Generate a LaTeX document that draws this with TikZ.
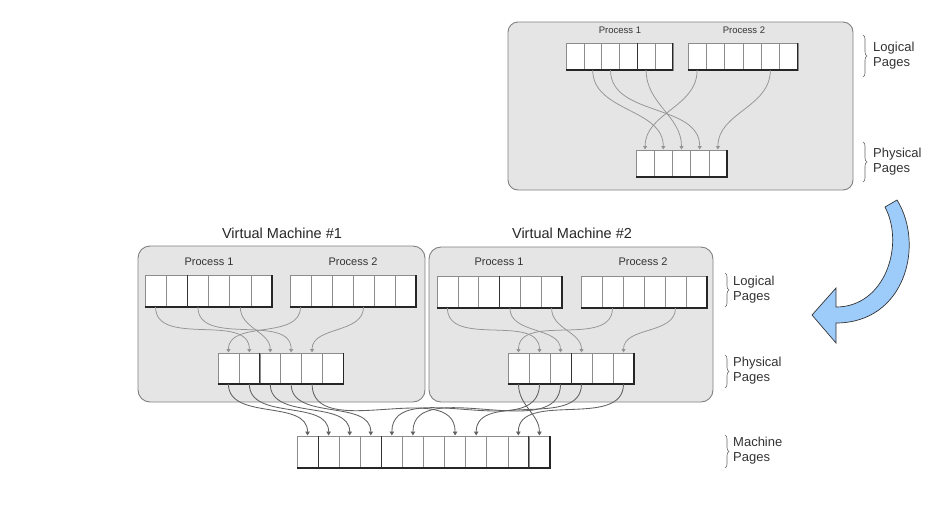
\documentclass[tikz,border=0pt]{standalone}
\usepackage{fontspec}
\setmainfont{Liberation Sans}
\usetikzlibrary{arrows.meta,decorations.pathreplacing}
\definecolor{arrowblue}{RGB}{157,203,250}
\newcommand\cellrow[6]{%
  \foreach \i in {1,...,#4}{\node[cellbox, minimum width=#5pt, minimum height=#6pt] (#1-\i) at ({#2+(\i-1)*#5}, #3) {};}
  \draw[shade] (#1-1.south west) -- (#1-#4.south east) -- (#1-#4.north east);
}
\newcommand\darkdiv[1]{\draw[divider] (#1.north east) -- (#1.south east);}
\begin{document}
\begin{tikzpicture}[x=1pt,y=-1pt,
  panel/.style={draw=black!50, line width=0.9pt, fill=black!10, rounded corners=10pt},
  cellbox/.style={draw=black!45, line width=0.6pt, fill=white, inner sep=0pt, outer sep=0pt, anchor=north west},
  shade/.style={draw=black!85, line width=1.3pt},
  divider/.style={draw=black!80, line width=0.9pt},
  conn/.style={draw=black!42, line width=0.75pt, -{Triangle[width=4pt,length=3.5pt]}, shorten >=0.5pt, out=-90, in=90},
  mconn/.style={draw=black!62, line width=0.85pt, -{Triangle[width=4.5pt,length=4pt]}, shorten >=0.5pt, out=-90, in=90},
  lbl/.style={text=black!80, font=\fontsize{13}{15}\selectfont, align=left, anchor=west, inner sep=0pt},
  proc/.style={text=black!80, inner sep=0pt, font=\fontsize{11}{13}\selectfont},
  tproc/.style={text=black!80, inner sep=0pt, font=\fontsize{9.5}{11}\selectfont},
  vmt/.style={text=black!85, inner sep=0pt, font=\fontsize{14.5}{17}\selectfont},
  br/.style={draw=black!60, line width=0.6pt, decorate, decoration={brace, amplitude=4pt}},
]
\useasboundingbox (0,0) rectangle (940,507);

% ---------- top panel ----------
\draw[panel] (508,22) rectangle (853,190);
\node[tproc] (tpr1) at (620,30) {Process 1};
\node[tproc] (tpr2) at (744,30) {Process 2};

% ---------- VM panels ----------
\draw[panel, rounded corners=12pt] (138,246) rectangle (425,402);
\draw[panel, rounded corners=12pt] (429,247) rectangle (713,402);
\node[vmt] (vm1) at (282,233) {Virtual Machine \#1};
\node[vmt] (vm2) at (572,233) {Virtual Machine \#2};
\node[proc] (apr1) at (209,262) {Process 1};
\node[proc] (apr2) at (353,262) {Process 2};
\node[proc] (bpr1) at (499,262) {Process 1};
\node[proc] (bpr2) at (643,262) {Process 2};

% ---------- coordinates of cell rows (nodes drawn later over the lines) ----------
\begin{scope}[opacity=0]
\end{scope}

% cell rows
\cellrow{t1}{566}{43}{6}{17.8}{27}
\cellrow{t2}{688}{43}{6}{18.3}{27}
\cellrow{tp}{636}{150}{5}{18.2}{27}
\cellrow{a1}{145}{275}{6}{21.17}{32}
\cellrow{a2}{290}{275}{6}{21}{32}
\cellrow{ap}{218}{353}{6}{20.9}{31}
\cellrow{b1}{437}{276}{6}{20.83}{32}
\cellrow{b2}{581}{276}{6}{21}{32}
\cellrow{bp}{508}{353}{6}{21}{31}
\cellrow{m}{297}{436}{12}{21.08}{32}
\darkdiv{t1-4}
\darkdiv{a1-2}
\darkdiv{ap-2}
\darkdiv{b1-3}
\darkdiv{bp-3}
\darkdiv{m-1}
\darkdiv{m-4}
\darkdiv{m-11}

% ---------- connectors: top ----------
\draw[conn] (t1-2.south) to (tp-2.north);
\draw[conn] (t1-3.south) to (tp-4.north);
\draw[conn] (t1-5.south) to (tp-3.north);
\draw[conn] (t2-1.south) to (tp-1.north);
\draw[conn] (t2-5.south) to (tp-5.north);

% ---------- connectors: VM1 ----------
\draw[conn] (a1-1.south) to (ap-2.north);
\draw[conn] (a1-3.south) to (ap-4.north);
\draw[conn] (a1-5.south) to (ap-3.north);
\draw[conn] (a2-1.south) to (ap-1.north);
\draw[conn] (a2-4.south) to (ap-5.north);

% ---------- connectors: VM2 ----------
\draw[conn] (b1-1.south) to (bp-2.north);
\draw[conn] (b1-4.south) to (bp-3.north);
\draw[conn] (b1-6.south) to (bp-4.north);
\draw[conn] (b2-2.south) to (bp-1.north);
\draw[conn] (b2-5.south) to (bp-6.north);

% ---------- connectors: machine ----------
\draw[mconn] (ap-1.south) to (m-1.north);
\draw[mconn] (ap-2.south) to (m-2.north);
\draw[mconn] (ap-3.south) to (m-3.north);
\draw[mconn] (ap-4.south) to (m-4.north);
\draw[mconn] (ap-5.south) to (m-8.north);
\draw[mconn] (bp-1.south) to (m-12.north);
\draw[mconn] (bp-2.south) to (m-5.north);
\draw[mconn] (bp-3.south) to (m-6.north);
\draw[mconn] (bp-4.south) to (m-9.north);
\draw[mconn] (bp-6.south) to (m-11.north);

% ---------- right labels ----------
\draw[br] (863,35) -- (863,77);
\node[lbl] (tlog) at (873,56) {Logical\\Pages};
\draw[br] (863,142) -- (863,182);
\node[lbl] (tphy) at (873,162) {Physical\\Pages};
\draw[br] (725,273) -- (725,307);
\node[lbl] (blog) at (733,290) {Logical\\Pages};
\draw[br] (725,355) -- (725,388);
\node[lbl] (bphy) at (733,371) {Physical\\Pages};
\draw[br] (725,435) -- (725,468);
\node[lbl] (bmac) at (733,451) {Machine\\Pages};

% ---------- blue curved arrow ----------
\draw[fill=arrowblue, draw=black!80, line width=0.7pt, line join=miter]
  (885,207) -- (897,200) .. controls (925,245) and (905,323) .. (836,323)
  -- (836,343) -- (812,315) -- (836,288) -- (836,307)
  .. controls (885,307) and (905,245) .. (885,207) -- cycle;
\end{tikzpicture}
\end{document}
